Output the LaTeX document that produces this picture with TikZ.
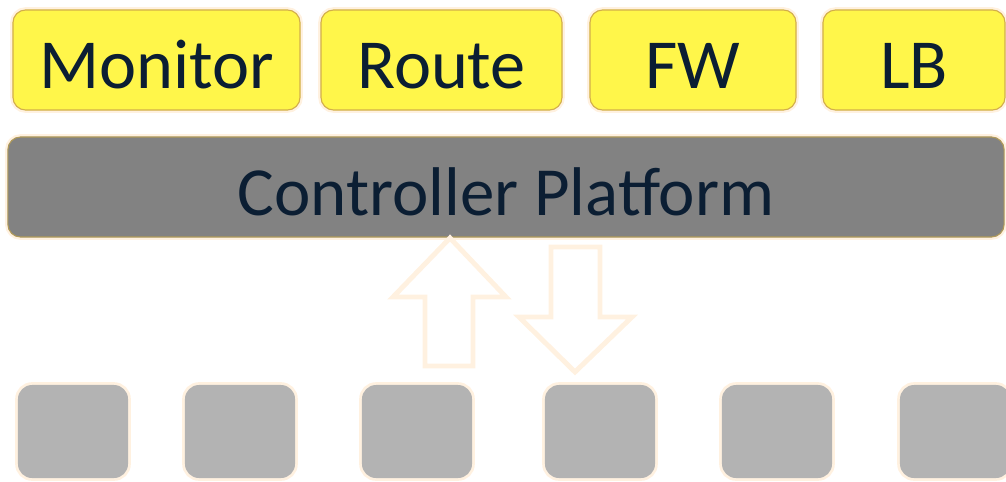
\documentclass[tikz,border=0pt]{standalone}
\usepackage{fontspec}
\setmainfont{Carlito}
\usepackage{tikz}
\usetikzlibrary{arrows.meta,positioning}

\definecolor{appyellow}{HTML}{FFF64A}
\definecolor{appedge}{HTML}{D2AE4A}
\definecolor{ctrlgray}{HTML}{828282}
\definecolor{ctrledge}{HTML}{B09A5A}
\definecolor{swgray}{HTML}{B3B3B3}
\definecolor{glow}{HTML}{FFF1E0}
\definecolor{inktext}{HTML}{0B1E33}

\begin{document}
\begin{tikzpicture}[
    x=0.025cm, y=-0.025cm,
    app/.style={rounded corners=9pt, draw=appedge, line width=0.8pt, fill=appyellow,
                minimum height=2.5cm, text=inktext,
                text height=40pt, text depth=0pt,
                font=\fontsize{50}{58}\selectfont,
                preaction={draw=glow, line width=4pt}},
    ctrl/.style={rounded corners=9pt, draw=ctrledge, line width=0.8pt, fill=ctrlgray,
                 minimum width=24.9cm, minimum height=2.5cm, text=inktext,
                 text height=40pt, text depth=0pt,
                 font=\fontsize{49}{58}\selectfont,
                 preaction={draw=glow, line width=4pt}},
    switch/.style={rounded corners=10pt, fill=swgray, draw=none,
                   minimum width=2.75cm, minimum height=2.325cm,
                   preaction={draw=glow, line width=4pt}},
    flow/.style={fill=white, draw=glow, line width=3.5pt, line join=miter},
]
\useasboundingbox (0,0) rectangle (1006,481);

% Applications on top
\node[app, minimum width=7.175cm] (monitor) at (156.5,60) {Monitor};
\node[app, minimum width=6.025cm] (route) at (441.5,60) {Route};
\node[app, minimum width=5.15cm] (fw) at (693,60) {FW};
\node[app, minimum width=4.55cm] (lb) at (914,60) {LB};

% Controller
\node[ctrl] (ctrl) at (506,187) {Controller Platform};

% Switches below
\foreach \xx [count=\i] in {73,240,417,600,777,955}
    \node[switch] (sw\i) at (\xx,431.5) {};

% Up / down block arrows between switches and controller
\draw[flow] (425,366) -- (425,297) -- (393,297) -- (450,238)
    -- (506,297) -- (473,297) -- (473,366) -- cycle;
\draw[flow] (551,247) -- (600,247) -- (600,317) -- (632,317)
    -- (575,372) -- (519,317) -- (551,317) -- cycle;
\end{tikzpicture}
\end{document}
